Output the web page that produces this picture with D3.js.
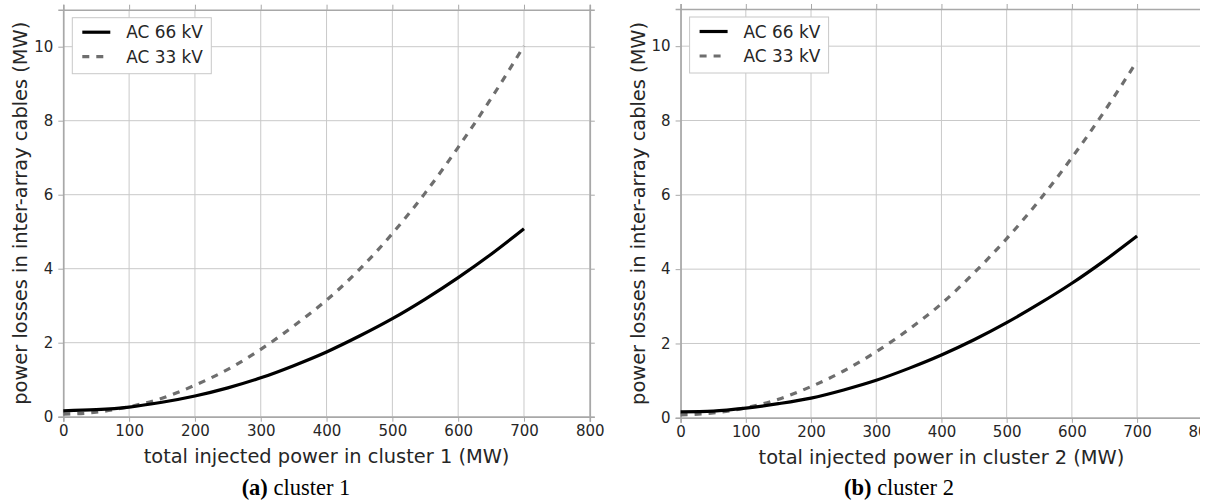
<!DOCTYPE html>
<html>
<head>
<meta charset="utf-8">
<script src="https://cdn.jsdelivr.net/npm/d3@7"></script>
<style>
  html, body { margin: 0; padding: 0; background: #fff; }
  svg { display: block; }
</style>
</head>
<body>
<svg id="chart" width="1209" height="504"></svg>
<script>
// ---- data ----
const injectedMW = [0, 50, 100, 150, 200, 250, 300, 350, 400, 450, 500, 550, 600, 650, 700];
const cluster1_AC66 = [0.16, 0.19, 0.26, 0.39, 0.56, 0.78, 1.05, 1.38, 1.75, 2.18, 2.65, 3.18, 3.76, 4.39, 5.08];
const cluster1_AC33 = [0.07, 0.12, 0.27, 0.50, 0.85, 1.28, 1.82, 2.45, 3.15, 3.98, 4.95, 6.05, 7.28, 8.60, 10.02];
const cluster2_AC66 = [0.16, 0.18, 0.26, 0.38, 0.53, 0.75, 1.01, 1.33, 1.69, 2.10, 2.56, 3.07, 3.62, 4.23, 4.89];
const cluster2_AC33 = [0.08, 0.13, 0.27, 0.50, 0.84, 1.26, 1.78, 2.38, 3.07, 3.90, 4.82, 5.85, 7.00, 8.25, 9.60];
const seriesNames = ["AC 66 kV", "AC 33 kV"];
const xTicks = [0, 100, 200, 300, 400, 500, 600, 700, 800];
const yTicks = [0, 2, 4, 6, 8, 10];
const xDomain = [0, 800];
const yDomain = [0, 11];
const xLabels = ["total injected power in cluster 1 (MW)", "total injected power in cluster 2 (MW)"];
const yLabel = "power losses in inter-array cables (MW)";
const captionTags = ["(a)", "(b)"];
const captionTexts = [" cluster 1", " cluster 2"];

// ---- drawing ----
const svg = d3.select("#chart");
const FONT = "DejaVu Sans, sans-serif";
const GRID = "#c9c9c9";
const SPINE = "#a8a8a8";
const TEXT = "#262626";

function panel(i, box, s66, s33) {
  const x = d3.scaleLinear().domain(xDomain).range([box.left, box.right]);
  const y = d3.scaleLinear().domain(yDomain).range([box.bottom, box.top]);
  const g = svg.append("g");

  // grid
  g.append("g").selectAll("line").data(xTicks).join("line")
    .attr("x1", d => x(d)).attr("x2", d => x(d))
    .attr("y1", box.top).attr("y2", box.bottom)
    .attr("stroke", GRID).attr("stroke-width", 1);
  g.append("g").selectAll("line").data(yTicks).join("line")
    .attr("x1", box.left).attr("x2", box.right)
    .attr("y1", d => y(d)).attr("y2", d => y(d))
    .attr("stroke", GRID).attr("stroke-width", 1);

  // axes (outward ticks on all four sides)
  const axB = d3.axisBottom(x).tickValues(xTicks).tickSize(5).tickPadding(4);
  const axT = d3.axisTop(x).tickValues(xTicks).tickSize(5).tickFormat("");
  const axL = d3.axisLeft(y).tickValues(yTicks).tickSize(5).tickPadding(5);
  const axR = d3.axisRight(y).tickValues(yTicks).tickSize(5).tickFormat("");
  const aB = g.append("g").attr("transform", `translate(0,${box.bottom})`).call(axB);
  const aT = g.append("g").attr("transform", `translate(0,${box.top})`).call(axT);
  const aL = g.append("g").attr("transform", `translate(${box.left},0)`).call(axL);
  const aR = g.append("g").attr("transform", `translate(${box.right},0)`).call(axR);
  [aB, aT, aL, aR].forEach(a => {
    a.select(".domain").attr("stroke", SPINE).attr("stroke-width", 1.6);
    a.selectAll(".tick line").attr("stroke", SPINE).attr("stroke-width", 1);
    a.selectAll("text").attr("fill", TEXT).attr("font-family", FONT).attr("font-size", 15);
  });

  // lines
  const line = d3.line().x((d, k) => x(injectedMW[k])).y(d => y(d)).curve(d3.curveMonotoneX);
  g.append("path").datum(s33).attr("d", line)
    .attr("fill", "none").attr("stroke", "#6e6e6e").attr("stroke-width", 3.2)
    .attr("stroke-dasharray", "7,7");
  g.append("path").datum(s66).attr("d", line)
    .attr("fill", "none").attr("stroke", "#000").attr("stroke-width", 3.2);

  // legend
  const lx = box.left + 9, ly = box.top + 8;
  const lg = g.append("g");
  lg.append("rect").attr("x", lx).attr("y", ly).attr("width", 139).attr("height", 56)
    .attr("fill", "#fff").attr("stroke", "#c8c8c8").attr("stroke-width", 1);
  const styles = [{c: "#000", dash: null}, {c: "#6e6e6e", dash: "7,7"}];
  seriesNames.forEach((n, k) => {
    const yy = ly + 14.5 + k * 24.5;
    lg.append("line").attr("x1", lx + 10).attr("x2", lx + 38).attr("y1", yy).attr("y2", yy)
      .attr("stroke", styles[k].c).attr("stroke-width", 3.2)
      .attr("stroke-dasharray", styles[k].dash);
    lg.append("text").attr("x", lx + 54).attr("y", yy).attr("dy", "0.36em")
      .attr("font-family", FONT).attr("font-size", 16.9).attr("fill", TEXT).text(n);
  });

  // axis labels
  g.append("text").attr("x", (box.left + box.right) / 2).attr("y", box.bottom + 46)
    .attr("text-anchor", "middle").attr("font-family", FONT).attr("font-size", 19.4)
    .attr("fill", TEXT).text(xLabels[i]);
  g.append("text")
    .attr("transform", `translate(${box.left - 36},${(box.top + box.bottom) / 2}) rotate(-90)`)
    .attr("text-anchor", "middle").attr("font-family", FONT).attr("font-size", 19.4)
    .attr("fill", TEXT).text(yLabel);

  // caption
  const cap = g.append("text").attr("x", box.capX).attr("y", 495)
    .attr("text-anchor", "middle").attr("font-family", "Liberation Serif, Times New Roman, serif")
    .attr("font-size", 22.5).attr("fill", "#000");
  cap.append("tspan").attr("font-weight", "bold").text(captionTags[i]);
  cap.append("tspan").text(captionTexts[i]);
}

panel(0, {left: 63.3, right: 589.8, top: 9.7, bottom: 416.7, capX: 296}, cluster1_AC66, cluster1_AC33);
panel(1, {left: 680.6, right: 1202.3, top: 9.0, bottom: 417.8, capX: 899}, cluster2_AC66, cluster2_AC33);

// the reference image is cropped on its right edge
svg.append("rect").attr("x", 1200).attr("y", 0).attr("width", 9).attr("height", 504).attr("fill", "#fff");
</script>
</body>
</html>
